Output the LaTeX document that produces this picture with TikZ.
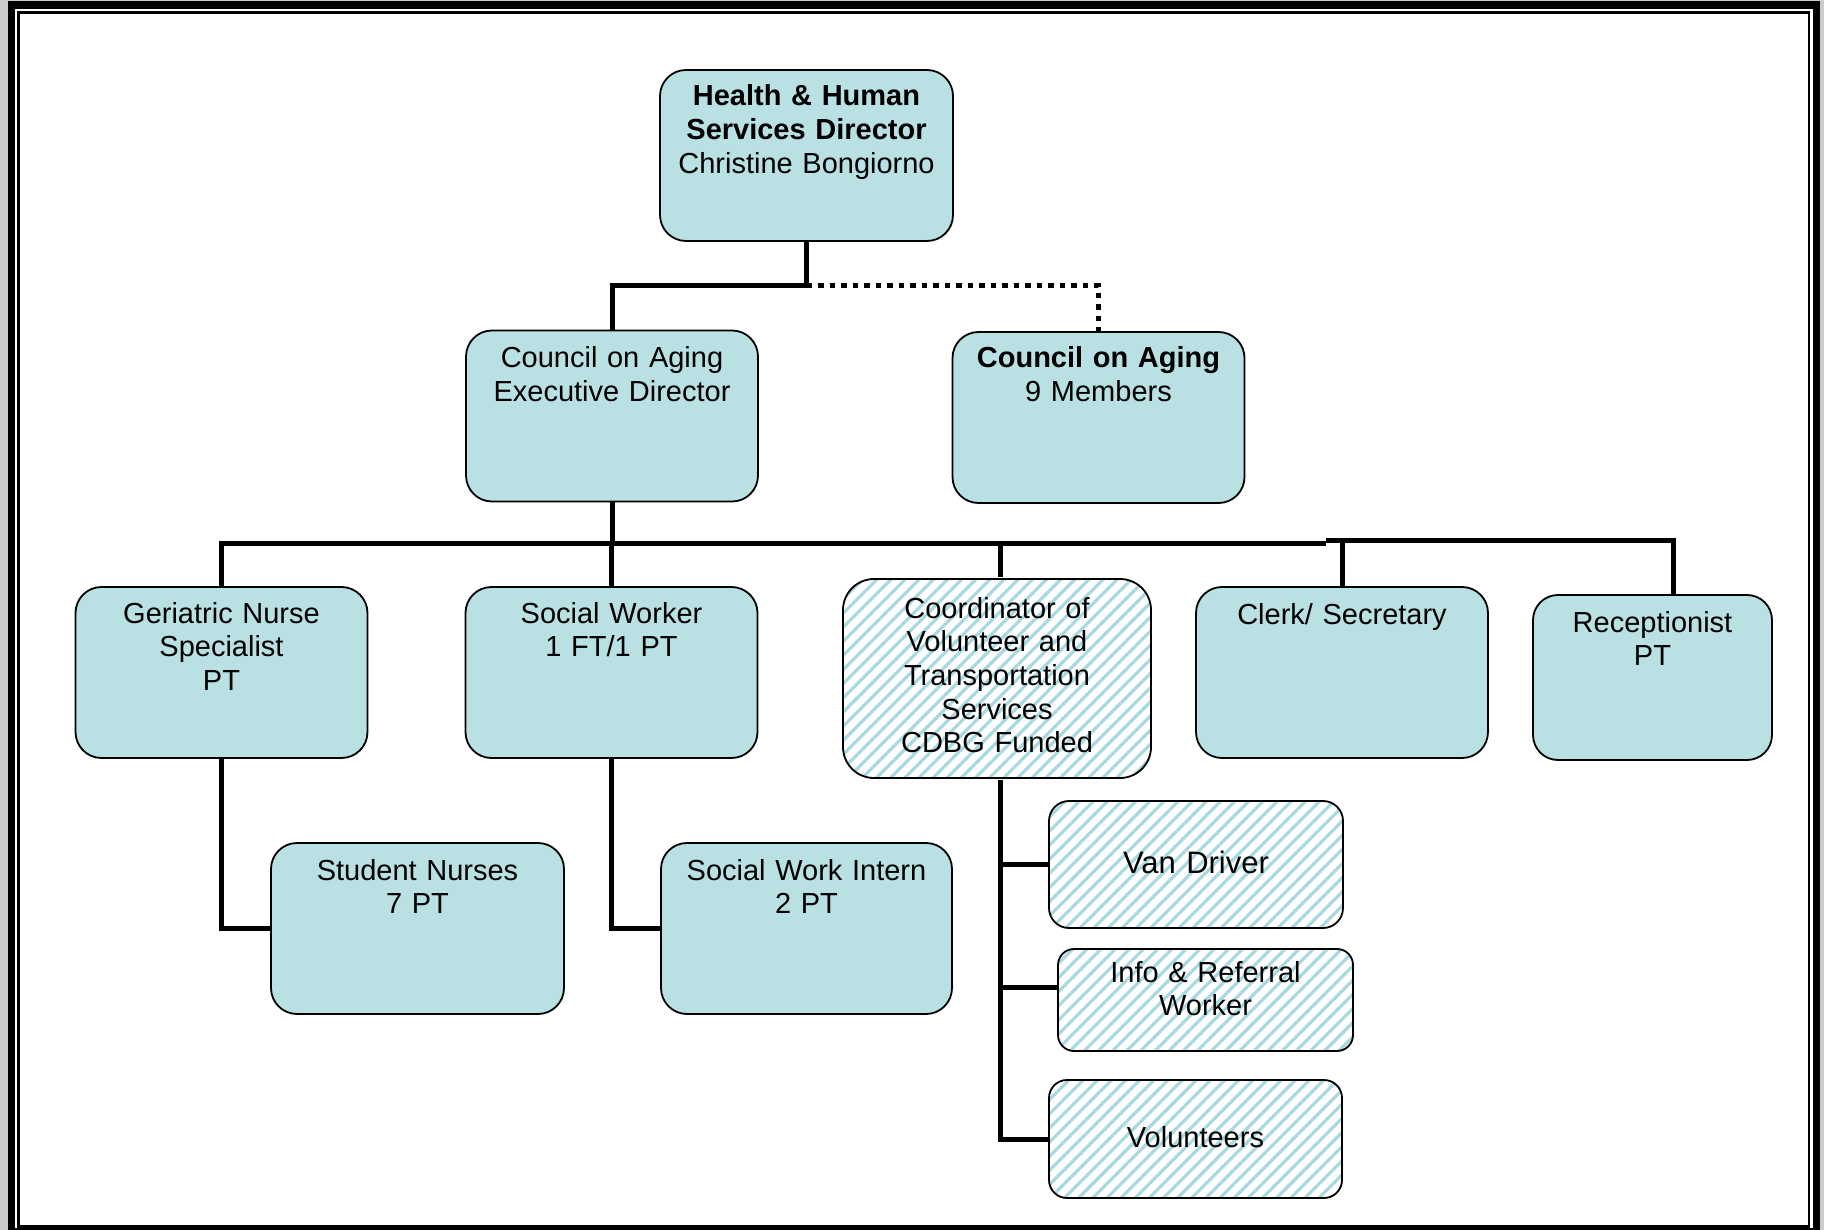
\documentclass[tikz,border=0pt]{standalone}
\usepackage{fontspec}
\setmainfont{Liberation Sans}
\usetikzlibrary{patterns.meta}

\definecolor{aging}{RGB}{185,224,227}
\definecolor{stripe}{RGB}{168,217,222}
\definecolor{frame}{RGB}{204,204,204}

\begin{document}
\begin{tikzpicture}[x=1pt, y=-1pt,
  font=\fontsize{29}{33.7}\selectfont,
  org/.style={draw, line width=1.8pt, rounded corners=26pt, align=center, inner sep=0pt,
    text width=292pt, text height=37pt, text depth=134pt},
  unit/.style={org, fill=aging},
  cdbg/.style={org, pattern={Lines[angle=45, distance=10pt, line width=3.2pt]}, pattern color=stripe},
  link/.style={line width=5pt},
  tie/.style={line width=5pt, dash pattern=on 5.5pt off 6pt}]
\useasboundingbox (0,0) rectangle (1824,1230);
% page frame
\fill[frame] (0,0) rectangle (1824,1230);
\fill (8,1) rectangle (1820,1230);
\fill[white] (15,9) rectangle (1813,1228);
\draw[line width=2.5pt] (18.5,12.5) rectangle (1809,1226.5);

\node[unit, text width=293pt, text height=36pt, text depth=135pt](dir) at (806.5,155.5){\textbf{Health \& Human}\\ \textbf{Services Director}\\ Christine Bongiorno};
\node[unit](exec) at (612,416){Council on Aging\\ Executive Director};
\node[unit, text height=36pt, text depth=135pt](coa) at (1098.5,417.5){\textbf{Council on Aging}\\ 9 Members};

\node[unit, text height=36pt, text depth=135pt](ger) at (221.5,672.5){Geriatric Nurse\\ Specialist\\ PT};
\node[unit, text height=36pt, text depth=135pt](sw) at (611.5,672.5){Social Worker\\ 1 FT/1 PT};
\node[cdbg, text width=308pt, text height=39pt, text depth=160pt, rounded corners=31pt](coord) at (997,678.5){Coordinator of\\ Volunteer and\\ Transportation\\ Services\\ CDBG Funded};
\node[unit](clerk) at (1342,672.5){Clerk/ Secretary};
\node[unit, text width=239pt, text height=37pt, text depth=128pt, rounded corners=25pt](rec) at (1652.5,677.5){Receptionist\\ PT};

\node[unit, text width=293pt](stu) at (417.5,928.5){Student Nurses\\ 7 PT};
\node[unit, text width=291pt](int) at (806.5,928.5){Social Work Intern\\ 2 PT};
\node[cdbg, text width=294pt, text height=72pt, text depth=55pt, rounded corners=20pt, font=\fontsize{31}{36}\selectfont](van) at (1196,864.5){Van Driver};
\node[cdbg, text width=295pt, text height=33pt, text depth=69pt, rounded corners=16pt](info) at (1205.5,1000){Info \& Referral\\ Worker};
\node[cdbg, text width=293pt, text height=67pt, text depth=51pt, rounded corners=18pt](vol) at (1195.5,1139){Volunteers};

% top level
\draw[link] (dir.south) -- ++(0,44) -| (exec.north);
\draw[tie] (dir.south) ++(0,44) -| (coa.north);

% staff bus
\coordinate (bus) at (612,543);
\coordinate (split) at (1326,540);
\draw[link] (exec.south) -- (bus);
\draw[link] (ger.north) |- (bus) -- (bus -| split);
\draw[link] (bus) -| (sw.north);
\draw[link] (bus) -| ([xshift=3pt]coord.north);
\draw[link] (split) -| (clerk.north);
\draw[link] (split) -| ([xshift=20.5pt]rec.north);

% second level
\draw[link] (ger.south) |- (stu.west);
\draw[link] (sw.south) |- (int.west);
\draw[link] ([xshift=3pt]coord.south) |- (vol.west);
\draw[link] (van.west) -| ([xshift=3pt]coord.south);
\draw[link] ([yshift=13pt]info.west) -| ([xshift=3pt]coord.south);
\end{tikzpicture}
\end{document}
